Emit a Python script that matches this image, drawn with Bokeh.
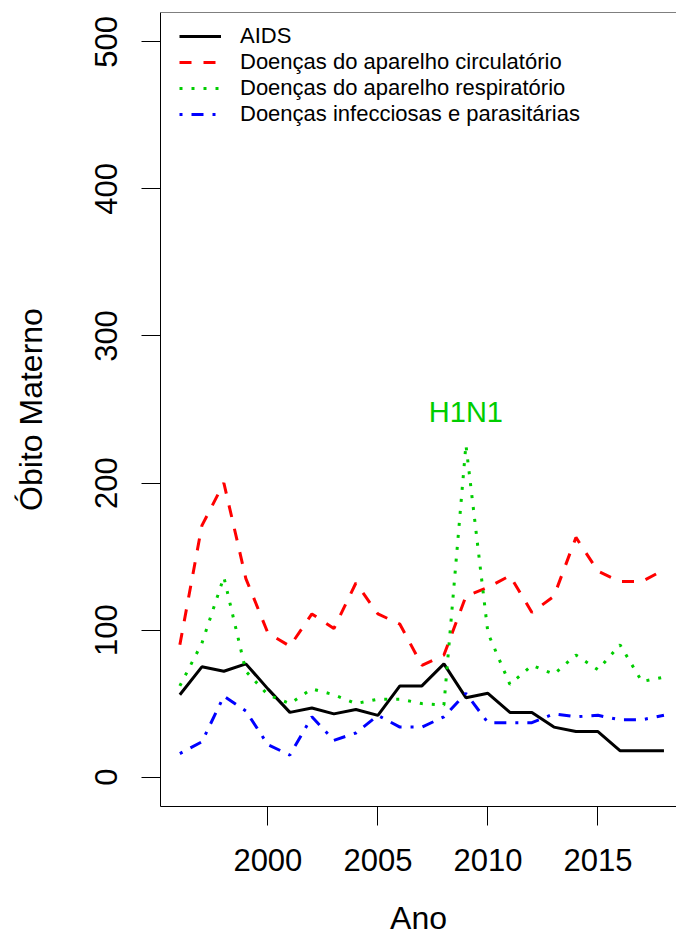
from bokeh.plotting import figure
from bokeh.models import Range1d, FixedTicker, Label, Span, Legend, LegendItem
from bokeh.embed import file_html
from bokeh.resources import INLINE

years = list(range(1996, 2019))
aids = [56, 75, 72, 77, 60, 44, 47, 43, 46, 42, 62, 62, 77, 54, 57, 44, 44, 34, 31, 31, 18, 18, 18]
circulatorio = [90, 171, 200, 135, 98, 89, 111, 101, 132, 111, 104, 76, 83, 123, 129, 137, 112, 123, 163, 140, 133, 133, 141]
respiratorio = [62, 91, 136, 72, 56, 50, 60, 56, 50, 53, 53, 50, 49, 226, 98, 63, 76, 70, 83, 73, 90, 65, 68]
infecciosas = [16, 24, 55, 45, 22, 15, 41, 25, 30, 42, 34, 34, 41, 57, 37, 37, 37, 43, 41, 42, 39, 39, 42]

series_names = ["AIDS", "Doenças do aparelho circulatório",
                "Doenças do aparelho respiratório", "Doenças infecciosas e parasitárias"]
x_ticks = [2000, 2005, 2010, 2015]
y_ticks = [0, 100, 200, 300, 400, 500]

FONT = "Liberation Sans"

p = figure(width=676, height=950, output_backend="svg", toolbar_location=None,
           x_range=Range1d(1995.12, 2018.57), y_range=Range1d(-20, 520),
           min_border_left=160, min_border_right=0, min_border_top=12, min_border_bottom=144)
p.outline_line_color = None
p.xgrid.visible = False
p.ygrid.visible = False
p.background_fill_color = "white"
p.border_fill_color = "white"

styles = [("black", "solid"), ("red", "12 12"), ("#00CD00", "3 9"), ("blue", "3 9 12 9")]
renderers = []
for vals, (col, dash) in zip([aids, circulatorio, respiratorio, infecciosas], styles):
    r = p.line(years, vals, line_color=col, line_dash=dash, line_width=3)
    renderers.append(r)

legend = Legend(items=[LegendItem(label=n, renderers=[r]) for n, r in zip(series_names, renderers)],
                location=(19, 679), padding=0, spacing=0, margin=0,
                glyph_width=42, glyph_height=26, label_height=26, label_standoff=19,
                label_text_font=FONT, label_text_font_size="22px", label_text_color="black",
                border_line_color=None, background_fill_alpha=0)
p.add_layout(legend)

# axes
for ax in (p.xaxis[0], p.yaxis[0]):
    ax.axis_line_color = "black"
    ax.major_tick_line_color = "black"
    ax.minor_tick_line_color = None
    ax.major_tick_out = 19
    ax.major_tick_in = 0
    ax.major_label_text_font = FONT
    ax.major_label_text_font_size = "31px"
    ax.major_label_text_color = "black"
    ax.axis_label_text_font = FONT
    ax.axis_label_text_font_size = "32px"
    ax.axis_label_text_font_style = "normal"
    ax.axis_label_text_color = "black"

p.xaxis[0].ticker = FixedTicker(ticks=x_ticks)
p.xaxis[0].major_label_standoff = 23
p.xaxis[0].axis_label = "Ano"
p.xaxis[0].axis_label_standoff = 26
p.yaxis[0].ticker = FixedTicker(ticks=y_ticks)
p.yaxis[0].major_label_orientation = "parallel"
p.yaxis[0].major_label_standoff = 24
p.yaxis[0].axis_label = "Óbito Materno"
p.yaxis[0].axis_label_standoff = 44

p.add_layout(Span(location=520, dimension="width", line_color="black", line_width=1))

p.add_layout(Label(x=2009, y=248, text="H1N1", text_color="#00CD00", text_font=FONT,
                   text_font_size="29px", text_align="center", text_baseline="alphabetic"))

open("out.html", "w").write(file_html(p, INLINE))
